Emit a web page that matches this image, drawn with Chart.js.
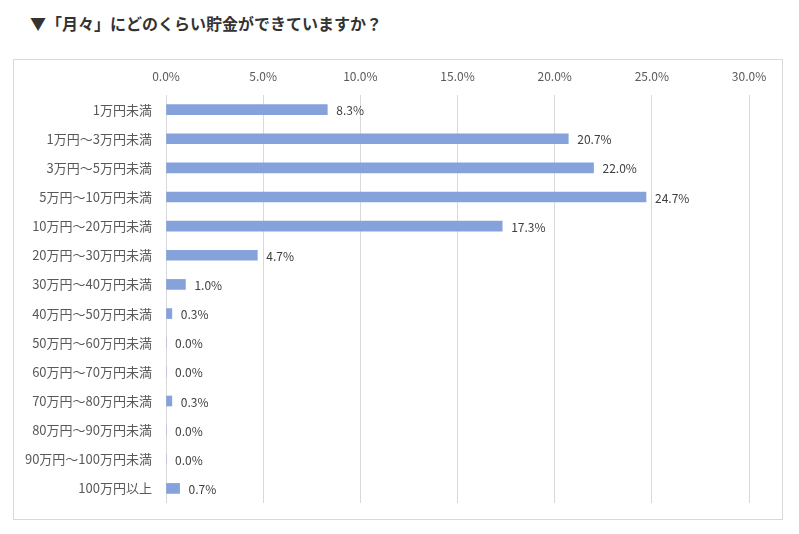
<!DOCTYPE html>
<html lang="ja">
<head>
    <meta charset="UTF-8">
    <title>月々の貯金額</title>
    <script src="https://cdn.jsdelivr.net/npm/chart.js"></script>
    <style>
        body { margin: 0; background: #fff; }
        .titre {
            position: absolute; left: 30px; top: 11px;
            font: bold 16px "Noto Sans CJK JP", sans-serif;
            color: #333;
        }
        .cadre {
            position: absolute; left: 13px; top: 59px;
            width: 768px; height: 459px;
            border: 1px solid #d9d9d9;
        }
        .zone { position: absolute; left: 0; top: 0; width: 799px; height: 534px; }
    </style>
</head>
<body>
    <div class="titre">▼「月々」にどのくらい貯金ができていますか？</div>
    <div class="cadre"></div>
    <div class="zone"><canvas id="graphique"></canvas></div>

    <script>
        // Données
        const categories = [
            '1万円未満', '1万円～3万円未満', '3万円～5万円未満', '5万円～10万円未満',
            '10万円～20万円未満', '20万円～30万円未満', '30万円～40万円未満', '40万円～50万円未満',
            '50万円～60万円未満', '60万円～70万円未満', '70万円～80万円未満', '80万円～90万円未満',
            '90万円～100万円未満', '100万円以上'
        ];
        const pourcentages = [8.3, 20.7, 22.0, 24.7, 17.3, 4.7, 1.0, 0.3, 0.0, 0.0, 0.3, 0.0, 0.0, 0.7];
        const graduations = [0, 5, 10, 15, 20, 25, 30];

        // Étiquettes de valeur au bout des barres
        const etiquettes = {
            id: 'etiquettes',
            afterDatasetsDraw(chart) {
                const ctx = chart.ctx;
                const meta = chart.getDatasetMeta(0);
                ctx.save();
                ctx.font = '12px "Noto Sans CJK JP", sans-serif';
                ctx.fillStyle = '#404040';
                ctx.textBaseline = 'middle';
                ctx.textAlign = 'left';
                meta.data.forEach((bar, i) => {
                    ctx.fillText(pourcentages[i].toFixed(1) + '%', bar.x + 9, bar.y + 1);
                });
                ctx.restore();
            }
        };

        const ctx = document.getElementById('graphique').getContext('2d');
        new Chart(ctx, {
            type: 'bar',
            data: {
                labels: categories,
                datasets: [{
                    data: pourcentages,
                    backgroundColor: '#86a2db',
                    barThickness: 10
                }]
            },
            options: {
                indexAxis: 'y',
                responsive: true,
                maintainAspectRatio: false,
                animation: false,
                layout: { padding: { left: 0, right: 50, top: 0, bottom: 31 } },
                plugins: { legend: { display: false }, tooltip: { enabled: false } },
                scales: {
                    x: {
                        position: 'top',
                        min: 0, max: 30,
                        afterFit(scale) { scale.height = 95; },
                        afterBuildTicks(scale) { scale.ticks = graduations.map(v => ({ value: v })); },
                        border: { display: false },
                        grid: { color: '#d9d9d9', drawTicks: false },
                        ticks: {
                            padding: 11,
                            color: '#595959',
                            font: { family: '"Noto Sans CJK JP", sans-serif', size: 12 },
                            callback: v => v.toFixed(1) + '%'
                        }
                    },
                    y: {
                        afterFit(scale) { scale.width = 166; },
                        border: { display: false },
                        grid: { display: false },
                        ticks: {
                            padding: 6,
                            color: '#595959',
                            font: { family: '"Noto Sans CJK JP", sans-serif', size: 13 }
                        }
                    }
                }
            },
            plugins: [etiquettes]
        });
    </script>
</body>
</html>
